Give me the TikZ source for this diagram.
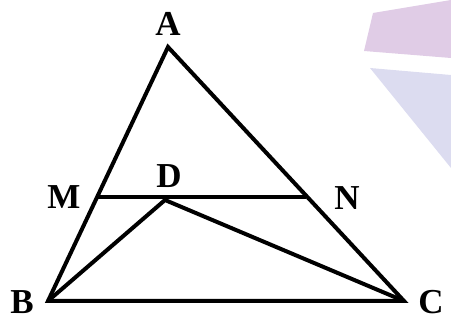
\documentclass[tikz,border=0pt]{standalone}
\usepackage{fontspec}
\setmainfont{Liberation Serif}
\usepackage{xcolor}
\definecolor{markpurple}{RGB}{224,204,230}
\definecolor{markblue}{RGB}{220,220,240}

\begin{document}
\begin{tikzpicture}[x=1pt, y=-1pt,
    side/.style={line width=4pt, line join=miter, line cap=butt},
    lbl/.style={font=\fontsize{35}{35}\selectfont\bfseries, inner sep=0pt}]
    \useasboundingbox (0,0) rectangle (451,321);

    % Watermark
    \fill[markpurple] (373,13) -- (451,0) -- (451,58) -- (364,51) -- cycle;
    \fill[markblue] (370,68) -- (451,75) -- (451,168) -- cycle;

    % Points
    \coordinate (A) at (168,47);
    \coordinate (B) at (48,301);
    \coordinate (C) at (404,301);
    \coordinate (M) at (97,197);
    \coordinate (N) at (306,197);
    \coordinate (D) at (165,200);

    % Triangle and segments
    \draw[side] (A) -- (B) -- (C) -- cycle;
    \draw[side] (M) -- (N);
    \draw[side] (B) -- (D) -- (C);

    % Labels
    \node[lbl] (lA) at (168,24) {A};
    \node[lbl] (lB) at (22,302) {B};
    \node[lbl] (lC) at (431,302) {C};
    \node[lbl] (lM) at (64,197) {M};
    \node[lbl] (lN) at (347,198) {N};
    \node[lbl] (lD) at (169,176) {D};
\end{tikzpicture}
\end{document}
